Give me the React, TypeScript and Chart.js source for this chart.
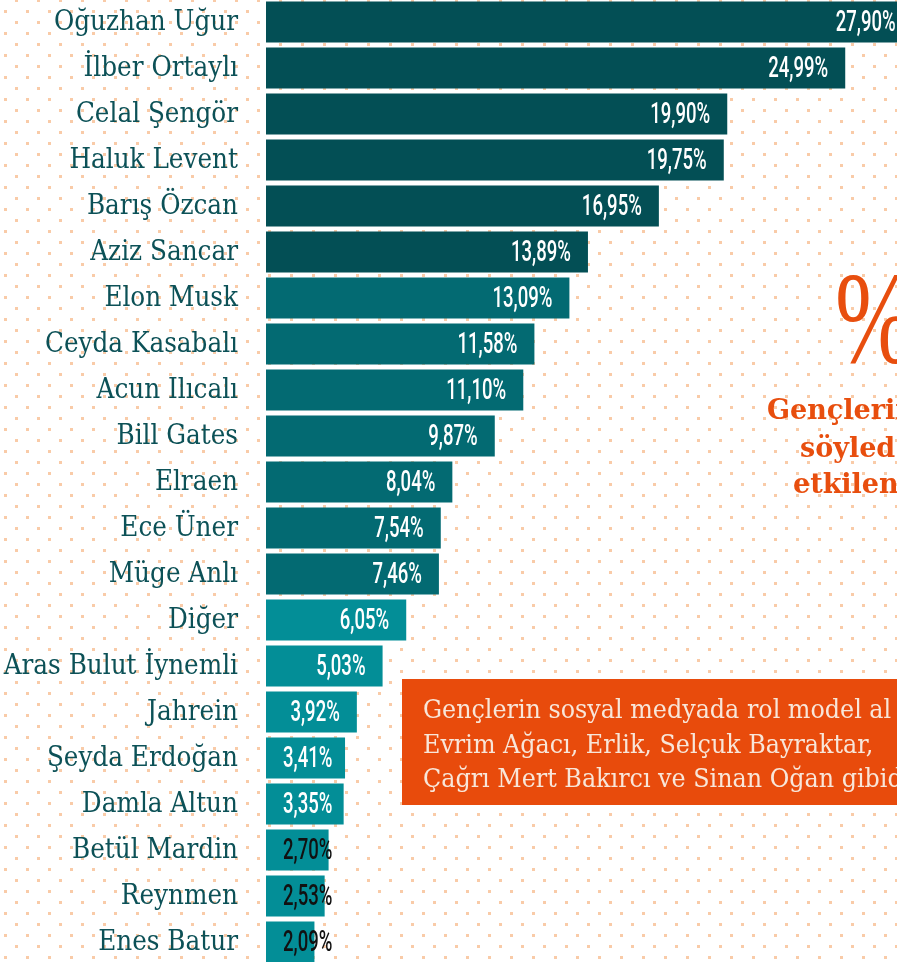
import React, { useEffect, useRef } from "react";
import { Chart, registerables } from "chart.js";

Chart.register(...registerables);

// ---------- data ----------
const names = [
  "Oğuzhan Uğur",
  "İlber Ortaylı",
  "Celal Şengör",
  "Haluk Levent",
  "Barış Özcan",
  "Aziz Sancar",
  "Elon Musk",
  "Ceyda Kasabalı",
  "Acun Ilıcalı",
  "Bill Gates",
  "Elraen",
  "Ece Üner",
  "Müge Anlı",
  "Diğer",
  "Aras Bulut İynemli",
  "Jahrein",
  "Şeyda Erdoğan",
  "Damla Altun",
  "Betül Mardin",
  "Reynmen",
  "Enes Batur",
];
const shares = [
  27.9, 24.99, 19.9, 19.75, 16.95, 13.89, 13.09, 11.58, 11.1, 9.87, 8.04, 7.54,
  7.46, 6.05, 5.03, 3.92, 3.41, 3.35, 2.7, 2.53, 2.09,
];
const groups = [0, 0, 0, 0, 0, 0, 1, 1, 1, 1, 1, 1, 1, 2, 2, 2, 2, 2, 2, 2, 2];
const darkValueLabels = ["Betül Mardin", "Reynmen", "Enes Batur"];
const sideLines = ["Gençlerin", "söyled", "etkilen"];
const sideSymbol = "%";
const boxLines = [
  "Gençlerin sosyal medyada rol model al",
  "Evrim Ağacı, Erlik, Selçuk Bayraktar,",
  "Çağrı Mert Bakırcı ve Sinan Oğan gibid",
];

// ---------- style ----------
const groupColors = ["#034f55", "#036a72", "#038e97"];
const LABEL_COLOR = "#0c5157";
const DOT_COLOR = "#f9cba8";
const ORANGE = "#e84e0e";
const BOX_TEXT = "#f8e6d9";
const SERIF = '"DejaVu Serif Condensed", "DejaVu Serif", serif';
const CANVAS_W = 915;
const CANVAS_H = 966;
const PAGE_Y = -1; // canvas top in page coords
const AXIS_W = 266;
const X_MAX = 28;
const SX = 0.64;

const cy = (py: number) => py - PAGE_Y;

const dotsPlugin = {
  id: "dots",
  beforeDraw(chart: any) {
    const ctx = chart.ctx;
    ctx.save();
    ctx.fillStyle = "#ffffff";
    ctx.fillRect(0, 0, chart.width, chart.height);
    ctx.fillStyle = DOT_COLOR;
    for (let j = -1; j < 46; j++) {
      for (let i = -1; i < 44; i++) {
        ctx.fillRect(4 + 22 * i, cy(10 + 22 * j), 3, 3);
        ctx.fillRect(15 + 22 * i, cy(-1 + 22 * j), 3, 3);
      }
    }
    ctx.restore();
  },
};

const valuePlugin = {
  id: "values",
  afterDatasetsDraw(chart: any) {
    const ctx = chart.ctx;
    const meta = chart.getDatasetMeta(0);
    ctx.save();
    ctx.font = '500 29px "Roboto", sans-serif';
    meta.data.forEach((bar: any, i: number) => {
      const txt = shares[i].toFixed(2).replace(".", ",") + "%";
      const w = ctx.measureText(txt).width * SX;
      const right = Math.max(bar.x - 17, bar.base + 17 + w);
      ctx.fillStyle = darkValueLabels.includes(names[i]) ? "#111111" : "#ffffff";
      ctx.save();
      ctx.translate(right, bar.y + 9);
      ctx.scale(SX, 1);
      ctx.textAlign = "right";
      ctx.textBaseline = "alphabetic";
      ctx.fillText(txt, 0, 0);
      ctx.restore();
    });
    ctx.restore();
  },
};

const overlayPlugin = {
  id: "overlay",
  afterDraw(chart: any) {
    const ctx = chart.ctx;
    ctx.save();
    // big percent sign (narrow, tall)
    ctx.fillStyle = ORANGE;
    ctx.textAlign = "left";
    ctx.textBaseline = "alphabetic";
    ctx.save();
    ctx.translate(835, cy(362));
    ctx.scale(0.72, 1);
    ctx.font = '132px "Liberation Serif", serif';
    ctx.fillText(sideSymbol, 0, 0);
    ctx.restore();
    // bold side text
    ctx.font = 'bold 27px "DejaVu Serif", serif';
    const sideX = [767, 800, 793];
    const sideY = [419, 457, 493];
    sideLines.forEach((t, k) => ctx.fillText(t, sideX[k], cy(sideY[k])));
    // orange box
    ctx.fillStyle = "#e84b0c";
    ctx.fillRect(402, cy(679), 600, 126);
    ctx.fillStyle = BOX_TEXT;
    ctx.font = "26.5px " + SERIF;
    const boxY = [718, 752.5, 787];
    boxLines.forEach((t, k) => ctx.fillText(t, 423, cy(boxY[k])));
    ctx.restore();
  },
};

export default function App() {
  const ref = useRef<HTMLCanvasElement>(null);
  useEffect(() => {
    const canvas = ref.current!;
    const chart = new Chart(canvas, {
      type: "bar",
      data: {
        labels: names,
        datasets: [
          {
            data: shares,
            backgroundColor: groups.map((g) => groupColors[g]),
            barPercentage: 41 / 46,
            categoryPercentage: 1,
            borderWidth: 0,
          },
        ],
      },
      options: {
        indexAxis: "y",
        responsive: false,
        animation: false,
        devicePixelRatio: 1,
        layout: { padding: 0 },
        plugins: {
          legend: { display: false },
          tooltip: { enabled: false },
          title: { display: false },
        },
        scales: {
          x: { type: "linear", min: 0, max: X_MAX, display: false },
          y: {
            type: "category",
            position: "left",
            grid: { display: false },
            border: { display: false },
            ticks: {
              font: { family: SERIF, size: 27.5 },
              color: LABEL_COLOR,
              padding: 20,
              autoSkip: false,
              labelOffset: 1,
            },
            afterFit: (s: any) => {
              s.width = AXIS_W;
              s.paddingTop = 0;
              s.paddingBottom = 0;
            },
          },
        },
      } as any,
      plugins: [dotsPlugin, valuePlugin, overlayPlugin],
    });
    return () => chart.destroy();
  }, []);
  return (
    <div
      style={{
        position: "absolute",
        left: 0,
        top: 0,
        width: 897,
        height: 962,
        overflow: "hidden",
        background: "#fff",
      }}
    >
      <canvas
        ref={ref}
        width={CANVAS_W}
        height={CANVAS_H}
        style={{ position: "absolute", left: 0, top: PAGE_Y, width: CANVAS_W, height: CANVAS_H }}
      />
    </div>
  );
}
